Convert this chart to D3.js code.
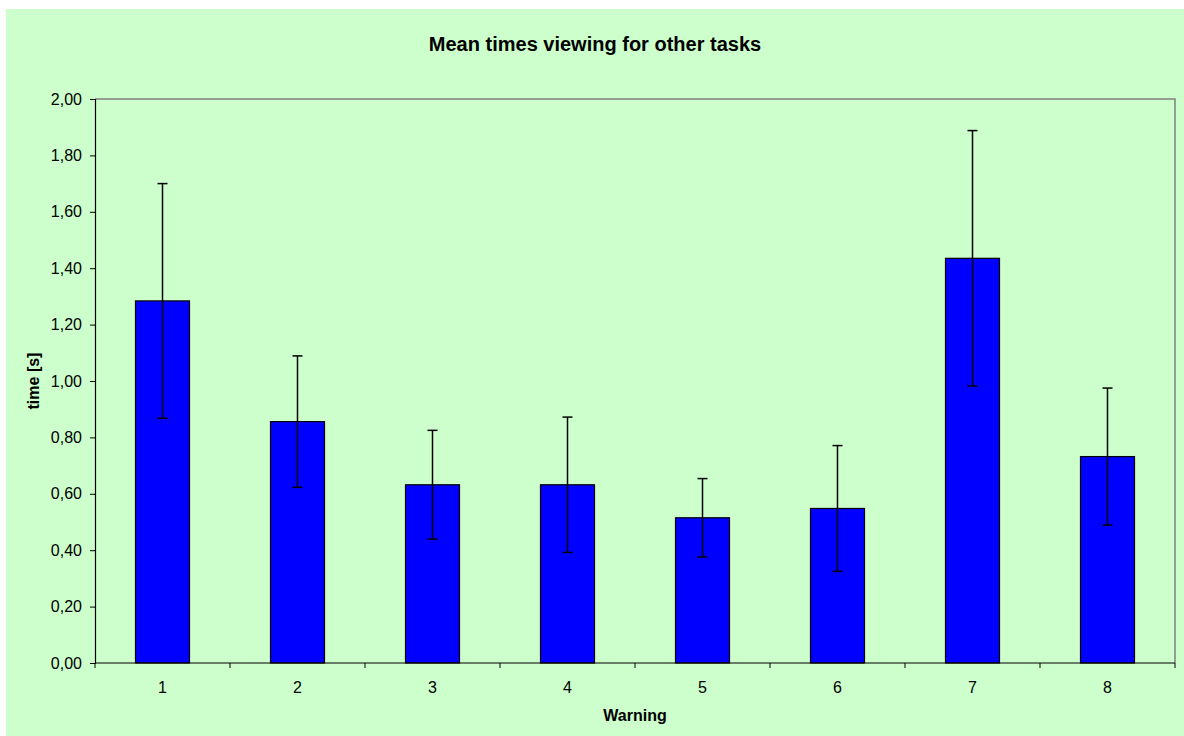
<!DOCTYPE html>
<html>
<head>
<meta charset="utf-8">
<script src="https://cdn.jsdelivr.net/npm/d3@7"></script>
<style>
  html, body { margin: 0; padding: 0; background: #ffffff; }
  svg { display: block; }
  text { font-family: "Liberation Sans", Arial, sans-serif; fill: #000; }
</style>
</head>
<body>
<svg id="chart" width="1184" height="736"></svg>
<script>
const categories = ["1", "2", "3", "4", "5", "6", "7", "8"];
const means = [1.284, 0.856, 0.632, 0.632, 0.515, 0.548, 1.435, 0.732];
const errors = [0.416, 0.233, 0.193, 0.240, 0.139, 0.223, 0.453, 0.243];
const yTicks = [0, 0.2, 0.4, 0.6, 0.8, 1.0, 1.2, 1.4, 1.6, 1.8, 2.0];
const title = "Mean times viewing for other tasks";
const xTitle = "Warning";
const yTitle = "time [s]";

const svg = d3.select("#chart");
const W = 1184, H = 736;
const plot = { left: 95, top: 99, right: 1175, bottom: 663 };

svg.append("rect").attr("x", 6).attr("y", 9).attr("width", W - 6).attr("height", H - 9)
  .attr("fill", "#CCFFCC");

const x = d3.scaleBand().domain(categories).range([plot.left, plot.right]).paddingInner(0.6).paddingOuter(0.3);
const xCat = d3.scaleBand().domain(categories).range([plot.left, plot.right]);
const y = d3.scaleLinear().domain([0, 2]).range([plot.bottom, plot.top]);

// plot border (top & right gray)
svg.append("path")
  .attr("d", `M${plot.left},${plot.top}H${plot.right}V${plot.bottom}`)
  .attr("fill", "none").attr("stroke", "#808080").attr("stroke-width", 1.5);

// bars
svg.append("g").selectAll("rect").data(categories).join("rect")
  .attr("x", d => x(d))
  .attr("y", (d, i) => y(means[i]))
  .attr("width", x.bandwidth())
  .attr("height", (d, i) => y(0) - y(means[i]))
  .attr("fill", "#0000FF").attr("stroke", "#000").attr("stroke-width", 1.2);

// error bars
const eb = svg.append("g").attr("stroke", "#000").attr("stroke-width", 1.5);
categories.forEach((c, i) => {
  const cx = x(c) + x.bandwidth() / 2;
  const hi = y(means[i] + errors[i]), lo = y(means[i] - errors[i]);
  eb.append("line").attr("x1", cx).attr("x2", cx).attr("y1", hi).attr("y2", lo);
  eb.append("line").attr("x1", cx - 5).attr("x2", cx + 5).attr("y1", hi).attr("y2", hi);
  eb.append("line").attr("x1", cx - 5).attr("x2", cx + 5).attr("y1", lo).attr("y2", lo);
});

// y axis
const fmt = v => d3.format(".2f")(v).replace(".", ",");
const yAxis = svg.append("g").attr("transform", `translate(${plot.left},0)`)
  .call(d3.axisLeft(y).tickValues(yTicks).tickFormat(fmt).tickSize(5).tickPadding(8));
yAxis.select(".domain").attr("stroke", "#000").attr("stroke-width", 1.2);
yAxis.selectAll(".tick line").attr("stroke", "#000");
yAxis.selectAll("text").attr("font-size", 16).attr("font-family", "Liberation Sans, Arial, sans-serif");

// x axis
const xAxisG = svg.append("g").attr("transform", `translate(0,${plot.bottom})`);
xAxisG.append("line").attr("x1", plot.left).attr("x2", plot.right).attr("stroke", "#000").attr("stroke-width", 1.2);
const boundaries = categories.map(c => xCat(c)).concat([plot.right]);
xAxisG.selectAll("line.tk").data(boundaries).join("line").attr("class", "tk")
  .attr("x1", d => d).attr("x2", d => d).attr("y1", 0).attr("y2", 5)
  .attr("stroke", "#000");
xAxisG.selectAll("text").data(categories).join("text")
  .attr("x", d => xCat(d) + xCat.bandwidth() / 2).attr("y", 30)
  .attr("text-anchor", "middle").attr("font-size", 16).text(d => d);

// titles
svg.append("text").attr("x", 595).attr("y", 51).attr("text-anchor", "middle")
  .attr("font-size", 20).attr("font-weight", "bold").text(title);
svg.append("text").attr("x", (plot.left + plot.right) / 2).attr("y", 721).attr("text-anchor", "middle")
  .attr("font-size", 16).attr("font-weight", "bold").text(xTitle);
svg.append("text").attr("transform", `translate(39,${(plot.top + plot.bottom) / 2}) rotate(-90)`)
  .attr("text-anchor", "middle").attr("font-size", 16).attr("font-weight", "bold").text(yTitle);
</script>
</body>
</html>
